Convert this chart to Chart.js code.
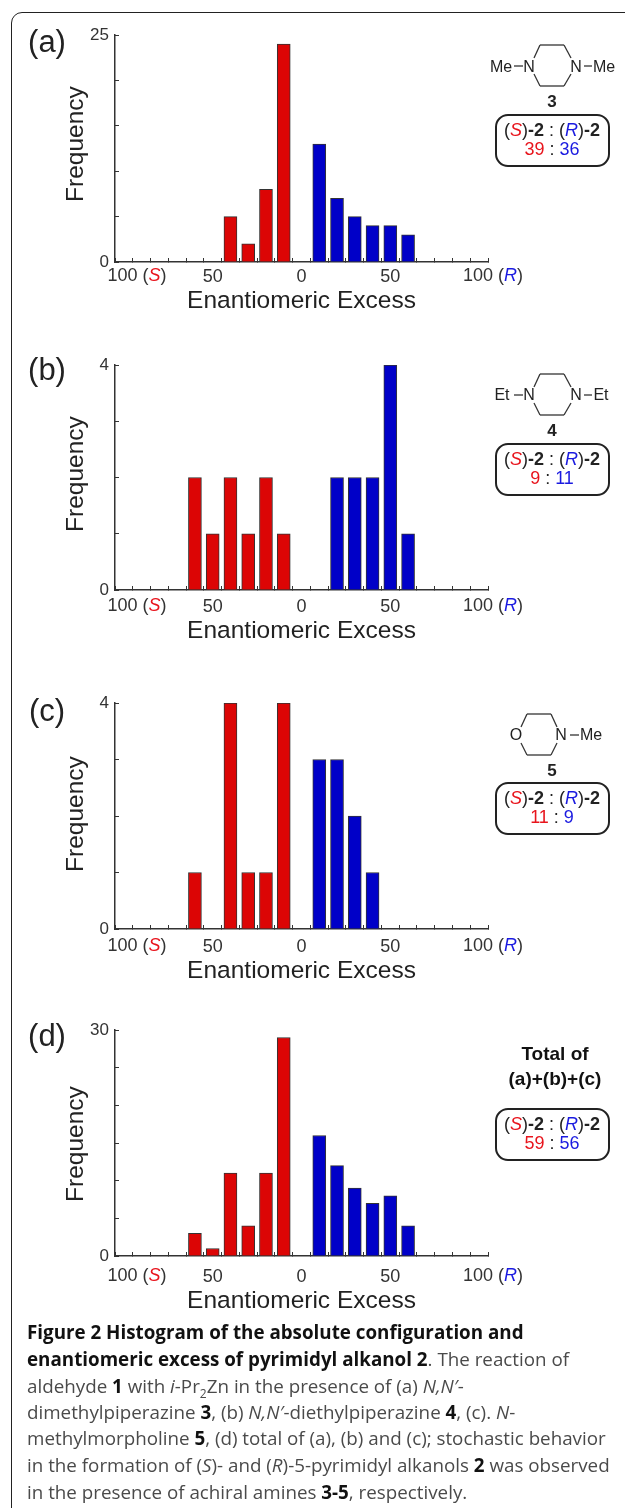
<!DOCTYPE html>
<html>
<head>
<meta charset="utf-8">
<script src="https://cdn.jsdelivr.net/npm/chart.js@4"></script>
<style>
  html, body { margin: 0; padding: 0; background: #fff; }
  #page { position: relative; width: 625px; height: 1508px; overflow: hidden; font-family: "Liberation Sans", sans-serif; color: #222; }
  #frame { position: absolute; left: 11px; top: 12px; width: 700px; height: 1600px; border: 1.5px solid #222; border-radius: 11px; }
  canvas { position: absolute; }
  .t { position: absolute; white-space: nowrap; transform: translate(-50%, -50%); }
  .letter { font-size: 31px; }
  .tick { font-size: 18px; color: #333; }
  .ytitle { font-size: 24.5px; transform: translate(-50%, -50%) rotate(-90deg); }
  .box { position: absolute; left: 495px; width: 111px; height: 49px; border: 2.5px solid #222; border-radius: 13px; }
  .s { color: #e8141c; }
  .r { color: #1a1ae0; }
  .cap { position: absolute; left: 27px; white-space: nowrap; font-family: "Open Sans", sans-serif; font-size: 18.8px; color: #4a4a4a; transform: translateY(-50%); }
  .cap b { color: #111; }
  sub { font-size: 12px; line-height: 0; }
  svg { position: absolute; left: 0; top: 0; }
</style>
</head>
<body>
<div id="page">
  <div id="frame"></div>
  <svg id="rings" width="625" height="1508" fill="none" stroke="#333" stroke-width="1.3"></svg>
</div>
<script>
const binsS = [-60, -50, -40, -30, -20, -10];
const binsR = [10, 20, 30, 40, 50, 60];

const panelAS = [0, 0, 5, 2, 8, 24];
const panelAR = [13, 7, 5, 4, 4, 3];
const panelBS = [2, 1, 2, 1, 2, 1];
const panelBR = [0, 2, 2, 2, 4, 1];
const panelCS = [1, 0, 4, 1, 1, 4];
const panelCR = [3, 3, 2, 1, 0, 0];
const panelDS = [3, 1, 11, 4, 11, 29];
const panelDR = [16, 12, 9, 7, 8, 4];

const yMaxes = [25, 4, 4, 30];
const yMinorSteps = [5, 1, 1, 5];
const ratiosS = [39, 9, 11, 59];
const ratiosR = [36, 11, 9, 56];

const page = document.getElementById('page');
const rings = document.getElementById('rings');

const addText = (x, y, cls, html, style) => {
  const el = document.createElement('div');
  el.className = 't ' + cls;
  el.style.left = x + 'px';
  el.style.top = y + 'px';
  if (style) el.style.cssText += style;
  el.innerHTML = html;
  page.appendChild(el);
};

const addRing = (points) => {
  points.forEach(([x1, y1, x2, y2]) => {
    const line = document.createElementNS('http://www.w3.org/2000/svg', 'line');
    line.setAttribute('x1', x1);
    line.setAttribute('y1', y1);
    line.setAttribute('x2', x2);
    line.setAttribute('y2', y2);
    rings.appendChild(line);
  });
};

const createPanel = (canvasTop, axisTop, axisBottom, yMax, yStep, redValues, blueValues, tickGap, titleGap) => {
  const canvas = document.createElement('canvas');
  const height = axisBottom - canvasTop + 70;
  canvas.width = 440;
  canvas.height = height;
  canvas.style.left = '60px';
  canvas.style.top = canvasTop + 'px';
  canvas.style.width = '440px';
  canvas.style.height = height + 'px';
  page.appendChild(canvas);

  return new Chart(canvas, {
    type: 'bar',
    data: {
      datasets: [
        {
          data: binsS.map((bin, i) => ({ x: bin, y: redValues[i] })),
          backgroundColor: '#dc0505',
          borderColor: '#333',
          borderWidth: 1,
          barThickness: 13,
          grouped: false,
        },
        {
          data: binsR.map((bin, i) => ({ x: bin, y: blueValues[i] })),
          backgroundColor: '#0000c8',
          borderColor: '#333',
          borderWidth: 1,
          barThickness: 13,
          grouped: false,
        },
      ],
    },
    options: {
      responsive: false,
      animation: false,
      layout: { padding: { top: axisTop - canvasTop, right: 12, left: 0, bottom: 0 } },
      plugins: { legend: { display: false }, tooltip: { enabled: false } },
      scales: {
        x: {
          type: 'linear',
          offset: false,
          min: -105,
          max: 105,
          afterFit: (scale) => {
            scale.height = 70;
            scale.paddingLeft = 0;
            scale.paddingRight = 0;
          },
          border: { color: '#333', width: 1.5 },
          grid: {
            offset: false,
            drawOnChartArea: false,
            tickLength: -4,
            tickColor: (ctx) => (ctx.tick && Math.abs(ctx.tick.value) % 10 === 5 ? '#333' : 'transparent'),
          },
          ticks: {
            stepSize: 5,
            autoSkip: false,
            maxRotation: 0,
            padding: tickGap - 5,
            color: '#333',
            font: { family: 'Liberation Sans', size: 18 },
            callback: (value) => (Math.abs(value) === 50 || value === 0 ? String(Math.abs(value)) : ''),
          },
          title: {
            display: true,
            text: 'Enantiomeric Excess',
            color: '#222',
            padding: { top: 0, bottom: 70 - titleGap - 16 },
            font: { family: 'Liberation Sans', size: 24.5 },
          },
        },
        y: {
          min: 0,
          max: yMax,
          afterFit: (scale) => {
            scale.width = 55;
            scale.paddingTop = 0;
            scale.paddingBottom = 0;
          },
          border: { color: '#333', width: 1.5 },
          grid: { drawOnChartArea: false, tickLength: -4, tickColor: '#333' },
          ticks: {
            stepSize: yStep,
            autoSkip: false,
            padding: 10,
            color: '#333',
            font: { family: 'Liberation Sans', size: 17 },
            callback: (value) => (value === 0 || value === yMax ? String(value) : ''),
          },
        },
      },
    },
  });
};

const panelTops = [35, 365, 703, 1030];
const panelBottoms = [262, 590, 929, 1256];
const tickGaps = [13, 15, 16, 19];
const titleGaps = [38, 40, 41, 44];
const letters = ['(a)', '(b)', '(c)', '(d)'];
const letterY = [42, 370, 711, 1036];
const freqY = [143.5, 473.5, 813.5, 1143.5];
const redSets = [panelAS, panelBS, panelCS, panelDS];
const blueSets = [panelAR, panelBR, panelCR, panelDR];
const boxTops = [114, 443, 782, 1108];

panelTops.forEach((top, i) => {
  createPanel(top - 15, top, panelBottoms[i], yMaxes[i], yMinorSteps[i], redSets[i], blueSets[i], tickGaps[i], titleGaps[i]);
  addText(47, letterY[i], 'letter', letters[i]);
  addText(75, freqY[i], 'ytitle', 'Frequency');
  addText(137, panelBottoms[i] + tickGaps[i], 'tick', '100 (<i class="s">S</i>)');
  addText(493, panelBottoms[i] + tickGaps[i], 'tick', '100 (<i class="r">R</i>)');

  const boxTop = boxTops[i];
  const box = document.createElement('div');
  box.className = 'box';
  box.style.top = boxTop + 'px';
  page.appendChild(box);
  addText(552, boxTop + 16, '', '(<i class="s">S</i>)<b>-2</b> : (<i class="r">R</i>)<b>-2</b>', 'font-size:18px');
  addText(552, boxTop + 35, '', `<span class="s">${ratiosS[i]}</span> : <span class="r">${ratiosR[i]}</span>`, 'font-size:18px');
});

// piperazine rings for 3 and 4, morpholine for 5
const piperazine = (dy) => [
  [534, 387 + dy, 540, 374 + dy], [540, 374 + dy, 564, 374 + dy], [564, 374 + dy, 571, 387 + dy],
  [534, 403 + dy, 540, 415 + dy], [540, 415 + dy, 564, 415 + dy], [564, 415 + dy, 571, 403 + dy],
  [514, 395 + dy, 523, 395 + dy], [584, 395 + dy, 592, 395 + dy],
];
addRing(piperazine(-329));
addRing(piperazine(0));
addRing([
  [521, 727, 527, 714], [527, 714, 551, 714], [551, 714, 557, 727],
  [521, 743, 527, 755], [527, 755, 551, 755], [551, 755, 557, 743], [570, 735, 579, 735],
]);

addText(501, 67, '', 'Me', 'font-size:16px');
addText(529, 67, '', 'N', 'font-size:16px');
addText(576, 67, '', 'N', 'font-size:16px');
addText(604, 67, '', 'Me', 'font-size:16px');
addText(552, 102, '', '<b>3</b>', 'font-size:17px');
addText(502, 395, '', 'Et', 'font-size:16px');
addText(529, 395, '', 'N', 'font-size:16px');
addText(576, 395, '', 'N', 'font-size:16px');
addText(601, 395, '', 'Et', 'font-size:16px');
addText(552, 431, '', '<b>4</b>', 'font-size:17px');
addText(516, 735, '', 'O', 'font-size:16px');
addText(561, 735, '', 'N', 'font-size:16px');
addText(591, 735, '', 'Me', 'font-size:16px');
addText(552, 771, '', '<b>5</b>', 'font-size:17px');
addText(555, 1054, '', '<b>Total of</b>', 'font-size:19px;color:#111');
addText(555, 1079, '', '<b>(a)+(b)+(c)</b>', 'font-size:19px;color:#111');

const captionLines = [
  '<b>Figure 2 Histogram of the absolute configuration and</b>',
  '<b>enantiomeric excess of pyrimidyl alkanol 2</b>. The reaction of',
  'aldehyde <b>1</b> with <i>i</i>-Pr<sub>2</sub>Zn in the presence of (a) <i>N,N′</i>-',
  'dimethylpiperazine <b>3</b>, (b) <i>N,N′</i>-diethylpiperazine <b>4</b>, (c). <i>N</i>-',
  'methylmorpholine <b>5</b>, (d) total of (a), (b) and (c); stochastic behavior',
  'in the formation of (<i>S</i>)- and (<i>R</i>)-5-pyrimidyl alkanols <b>2</b> was observed',
  'in the presence of achiral amines <b>3-5</b>, respectively.',
];
const captionY = [1332, 1359, 1386, 1412, 1438, 1465, 1492];

captionLines.forEach((line, i) => {
  const el = document.createElement('div');
  el.className = 'cap';
  el.style.top = captionY[i] + 'px';
  el.innerHTML = line;
  page.appendChild(el);
});
</script>
</body>
</html>
